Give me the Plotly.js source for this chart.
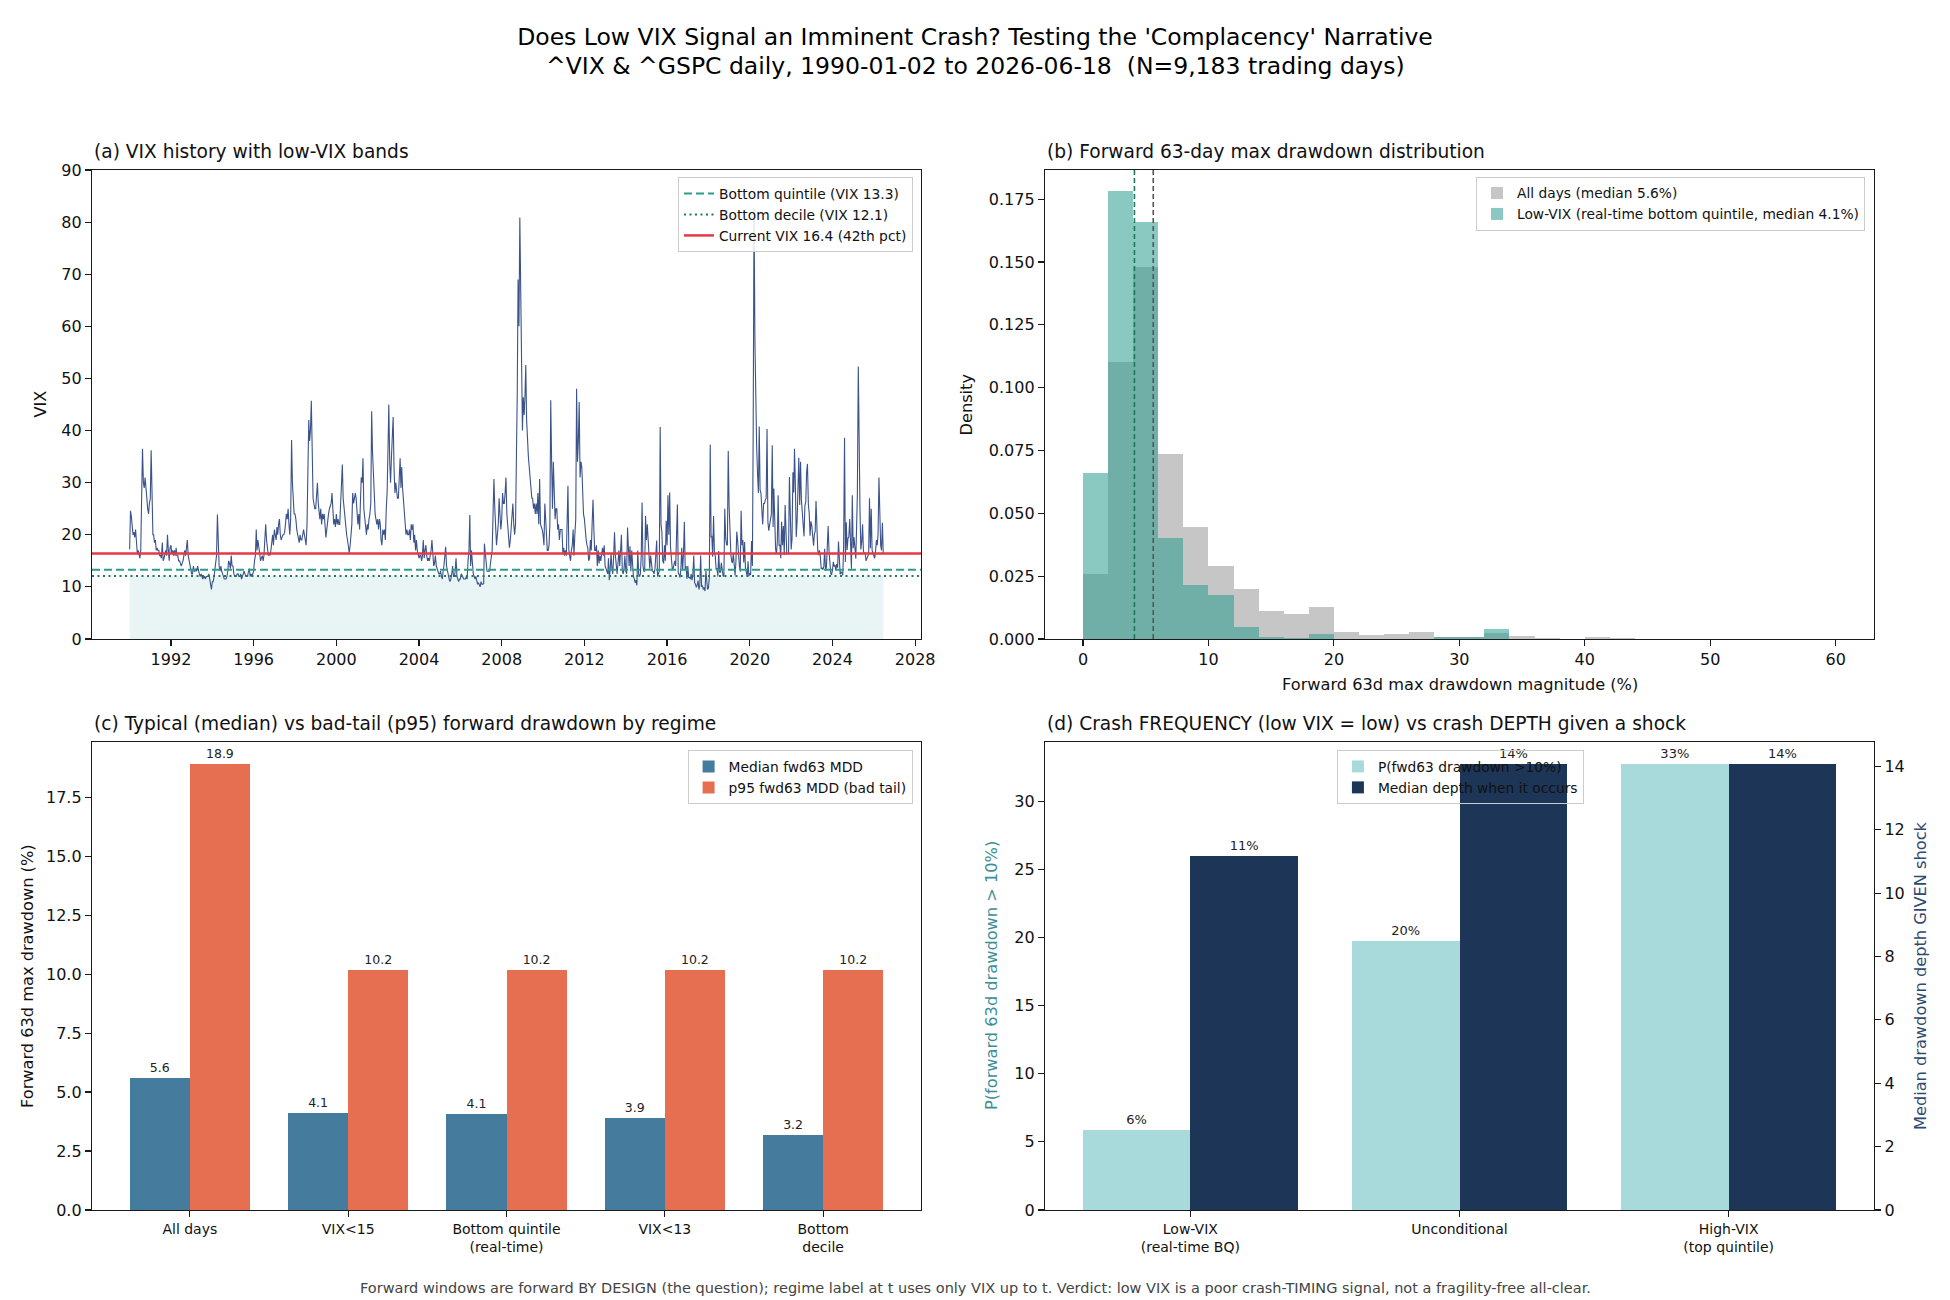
<!DOCTYPE html>
<html><head><meta charset="utf-8">
<script src="https://cdn.plot.ly/plotly-3.0.1.min.js"></script>
<style>html,body{margin:0;padding:0;background:#fff}#chart{width:1950px;height:1300px}</style>
</head><body><div id="chart"></div>
<script>
// ---------- Panel (a): VIX history, semi-monthly readings (1st & 16th of each month) ----------
const vix1990 = [17.2, 24.6, 23.5, 22, 20, 20.5, 19.5, 21, 18.5, 16.5, 17, 16, 15.5, 17, 27, 36.5, 30, 29, 31, 28, 27, 25, 24, 26];
const vix1991 = [27, 36.2, 23, 20, 20, 18.5, 19, 17, 17.5, 17, 17, 16, 16, 15.5, 18.5, 15, 15.5, 16.5, 17, 16, 20, 17, 15, 17.5];
const vix1992 = [18, 16.5, 17, 16, 17, 16, 17.5, 16, 16, 15, 15, 14.5, 14, 14.5, 15, 16, 17, 16, 17.5, 19, 16, 15, 14, 13.5];
const vix1993 = [12.5, 12.5, 14, 13, 13, 13.5, 13, 14, 13, 12.5, 12, 12.5, 12, 11.5, 12, 12, 11.5, 12, 12, 12, 12.5, 11.5, 10.5, 9.5];
const vix1994 = [11, 11, 12, 13.5, 14.5, 16, 23.9, 17, 14, 13, 14, 13, 12.5, 12, 11.5, 11.5, 11.5, 12, 13, 15, 14.5, 13.5, 16, 14];
const vix1995 = [14, 12.5, 12, 12, 12, 12.5, 12.5, 12, 12, 12.5, 11.5, 12, 12.5, 13, 12.5, 12, 12, 12, 13, 13.5, 12, 12.5, 12, 12.5];
const vix1996 = [13, 15, 16, 21, 17, 19, 17, 16.5, 15, 15.5, 16, 15, 16, 19, 22, 19, 17, 16, 16.5, 16, 17, 19, 20, 18];
const vix1997 = [21, 20, 19, 21.5, 20, 22, 23, 20, 19, 19.5, 20, 20, 20.5, 22, 24, 23, 25, 22, 20, 23, 38.2, 30, 25, 24];
const vix1998 = [24, 23, 21, 20, 19, 18.5, 20, 19, 19, 20, 21, 20, 19, 18, 22, 32, 42, 38, 40, 45.7, 30, 27, 26, 25];
const vix1999 = [25, 28, 30, 26, 24, 23, 25, 22, 24, 23, 24, 21, 19.5, 21, 23.5, 24, 25, 25.5, 26, 28, 24, 22, 23, 21.5];
const vix2000 = [24, 22, 23, 22, 22, 25, 28, 33.5, 27, 25, 24, 22, 20, 19, 18, 16.5, 18, 20, 22, 28, 26, 27, 28, 27];
const vix2001 = [25, 22, 24, 21, 26, 31, 30, 34.7, 25, 23, 22, 20, 22, 21, 23, 24, 26, 43.7, 36, 30, 28, 24, 23, 22];
const vix2002 = [23, 21, 23, 22, 19, 18, 21, 20, 21, 19, 25, 28, 36, 45, 34, 30, 35, 38, 42.6, 33, 28, 30, 28, 27];
const vix2003 = [27, 31, 34.7, 29, 33, 29, 27, 24, 22, 20, 21, 20, 20, 21, 19, 22, 21, 22, 18.5, 20, 17, 19, 17, 16.5];
const vix2004 = [15.5, 16, 16, 15, 16, 19, 15.5, 17, 18, 16, 15, 15.5, 15, 16, 17, 19, 15, 14, 14.5, 16, 14, 13.5, 13, 12.5];
const vix2005 = [12.5, 13, 12, 11.5, 13, 14, 16, 17.7, 14, 13, 12, 11.5, 11, 11.5, 12.5, 14, 12, 12, 13, 15.5, 12, 11.5, 11, 11.5];
const vix2006 = [11.5, 12.5, 12, 11.5, 11.5, 11.5, 11.5, 12, 11.5, 15, 17, 23.8, 14, 17, 14, 12.5, 12, 11.5, 12, 11.2, 10.5, 10.8, 10.5, 10];
const vix2007 = [11, 10.5, 10.5, 10.6, 18.3, 16, 14, 13, 13, 13, 13, 14.5, 16, 17, 24, 30.7, 25, 22, 18, 20, 22, 27, 22, 21];
const vix2008 = [23, 28, 26, 26, 28, 31, 24, 21, 18, 17.5, 19, 22, 24, 26, 22, 20, 22, 32, 46.7, 69, 60, 80.9, 68.5, 49];
const vix2009 = [40, 46.4, 43, 47, 52.6, 42, 37, 35, 33, 31, 29, 27, 27, 25, 26, 24, 26, 24, 28, 22, 30.7, 22, 21.5, 21];
const vix2010 = [20, 18, 26, 22, 19, 17, 17, 18, 22, 45.8, 34, 25, 34, 26, 23, 25, 25, 21, 22, 19, 21, 21, 21, 16.5];
const vix2011 = [17.5, 16, 17, 16, 21, 29.4, 17, 15.5, 15, 17, 18, 21, 16, 20, 23, 48, 34, 38, 45.5, 31, 34, 33, 27, 24];
const vix2012 = [23, 20, 19, 18, 17.5, 15, 15.5, 19, 17, 22, 26.7, 21, 17, 17, 18, 14, 17, 14.5, 16, 15, 17, 17.5, 16, 18];
const vix2013 = [14, 13.5, 12.9, 12.5, 15.5, 11.3, 13.5, 16.5, 13.5, 12.5, 16, 20.5, 16, 13.5, 12.5, 14.5, 17, 14, 16.6, 20, 13, 12.5, 13.5, 16];
const vix2014 = [13, 12.5, 21.4, 14, 14, 17.8, 13, 17, 13, 12, 11.5, 10.8, 11.3, 10.3, 17, 12.5, 12, 12.5, 16, 26.2, 14, 13, 13, 23.6];
const vix2015 = [19, 22, 19, 15.5, 13.5, 16, 14.5, 13, 13, 12.5, 13.5, 15.5, 18.9, 12, 12.5, 13, 40.7, 22, 20.5, 15, 14.5, 18, 15, 22.7];
const vix2016 = [18, 27.6, 20, 28.1, 17.7, 16, 13.5, 13.5, 14.7, 15, 14, 19.4, 25.8, 12.7, 12.4, 11.8, 13.5, 17.5, 13.3, 16.2, 22.5, 13.4, 14, 11.5];
const vix2017 = [14, 11.8, 11.8, 11.5, 12.5, 11.3, 12.4, 16, 10.8, 10.5, 9.9, 10.4, 11.2, 9.5, 10.3, 16, 10.1, 10.2, 9.5, 9.9, 9.2, 13.1, 11.4, 9.5];
const vix2018 = [9.8, 11.7, 37.3, 19.5, 19.8, 15.8, 23.6, 16.6, 15.9, 13.4, 13.5, 12, 16.9, 12.8, 12.8, 14.6, 12.9, 12.1, 12, 25, 19.3, 18.1, 18, 36.1];
const vix2019 = [25.4, 19, 16.1, 14.9, 14.6, 16.5, 13.4, 12.2, 14.8, 20.6, 18.7, 15.3, 14, 12.9, 24.6, 18, 19, 14.7, 18.6, 13.7, 12.3, 12, 14.9, 12.1];
const vix2020 = [12.5, 12.3, 18.8, 14, 40.1, 82.7, 57, 40, 37, 31.9, 28, 40.8, 28.6, 28, 24.5, 22, 26, 26, 26.7, 27, 40.3, 22.5, 20.8, 22];
const vix2021 = [22.8, 24, 37.2, 21.5, 28.9, 19.8, 17.3, 16.3, 18.6, 27.6, 17.9, 18.1, 15.5, 22.5, 18, 21.7, 16.1, 25.7, 21.2, 16.3, 16.3, 16.4, 31.1, 20.6];
const vix2022 = [17.2, 19.2, 32, 28.1, 36.5, 29.8, 19.6, 22.7, 33.4, 34.8, 25.7, 34, 26.7, 24.2, 23, 19.7, 25.6, 26.3, 32, 33.6, 25.8, 24.1, 19.8, 22.6];
const vix2023 = [21.7, 19.4, 17.9, 20.2, 20.6, 26.5, 18.7, 17, 16.1, 17, 15.7, 13.5, 13.6, 13.3, 13.9, 17.3, 13.1, 13.8, 17.5, 21.7, 16.9, 14.2, 12.6, 12.3];
const vix2024 = [13.2, 14.8, 13.9, 14.2, 13.1, 14.4, 13.7, 18.7, 15.4, 12.4, 12.9, 12.7, 12.2, 18, 38.6, 14.8, 22.4, 17.1, 19.3, 19.6, 23, 16.1, 13.5, 27.6];
const vix2025 = [17.4, 19.5, 16.4, 15.4, 21, 27.9, 52.3, 32.6, 24.6, 17.2, 18.6, 22, 16.8, 16.4, 16.5, 15, 15.4, 15.7, 16.3, 27, 17.4, 25, 17, 16.5];
const vix2026 = [16, 15.5, 17, 19, 18, 20, 31, 21, 18, 17, 22.3, 16.4];
const vixByYear = [vix1990, vix1991, vix1992, vix1993, vix1994, vix1995, vix1996, vix1997, vix1998, vix1999,
  vix2000, vix2001, vix2002, vix2003, vix2004, vix2005, vix2006, vix2007, vix2008, vix2009,
  vix2010, vix2011, vix2012, vix2013, vix2014, vix2015, vix2016, vix2017, vix2018, vix2019,
  vix2020, vix2021, vix2022, vix2023, vix2024, vix2025, vix2026];
const firstYear = 1990;
const quintileVix = 13.3;
const decileVix = 12.1;
const currentVix = 16.4;
const currentPct = 42;
const bandStart = '1990-01-02';
const bandEnd = '2026-06-18';
const aXRange = ['1988-03-07', '2028-04-13'];

// ---------- Panel (b): forward 63d max drawdown histogram (density, 2-pt bins) ----------
const binLeft = [0, 2, 4, 6, 8, 10, 12, 14, 16, 18, 20, 22, 24, 26, 28, 30, 32, 34, 36, 38, 40, 42, 44, 46, 48, 50, 52, 54, 56, 58];
const allDaysDensity = [0.026, 0.1104, 0.148, 0.0736, 0.0446, 0.0291, 0.020, 0.0111, 0.010, 0.0127, 0.0027, 0.0016, 0.002, 0.0027, 0.0007, 0.0006, 0.0024, 0.0011, 0.0004, 0.0001, 0.0007, 0.0003, 0, 0, 0, 0, 0, 0, 0, 0];
const lowVixDensity = [0.066, 0.1784, 0.166, 0.040, 0.0213, 0.0177, 0.0046, 0.0006, 0.0005, 0.0021, 0, 0, 0, 0, 0.0007, 0.0006, 0.0041, 0, 0, 0, 0, 0, 0, 0, 0, 0, 0, 0, 0, 0];
const medianAll = 5.6;
const medianLow = 4.1;

// ---------- Panel (c): median vs p95 forward drawdown by regime ----------
const regimes = ['All days', 'VIX&lt;15', 'Bottom quintile<br>(real-time)', 'VIX&lt;13', 'Bottom<br>decile'];
const medianMDD = [5.6, 4.12, 4.08, 3.9, 3.18];
const p95MDD = [18.9, 10.18, 10.18, 10.18, 10.18];

// ---------- Panel (d): crash frequency vs depth ----------
const dCats = ['Low-VIX<br>(real-time BQ)', 'Unconditional', 'High-VIX<br>(top quintile)'];
const pCrash = [5.89, 19.75, 32.7];
const depthGiven = [11.18, 14.07, 14.07];

// ---------- build ----------
const vixDates = [], vixValues = [];
vixByYear.forEach((arr, k) => {
  const yr = firstYear + k;
  arr.forEach((v, i) => {
    const m = Math.floor(i / 2) + 1;
    const d = (i % 2) ? 16 : 1;
    vixDates.push(yr + '-' + String(m).padStart(2, '0') + '-' + String(d).padStart(2, '0'));
    vixValues.push(v);
  });
});

const FONT = 'DejaVu Sans, Verdana, sans-serif';
const TXT = '#111111';
const traces = [
  {type:'scatter', mode:'lines', x:[bandStart, bandEnd], y:[decileVix, decileVix], fill:'tozeroy',
   fillcolor:'rgba(42,157,143,0.10)', line:{width:0, color:'rgba(0,0,0,0)'}, showlegend:false, hoverinfo:'skip', xaxis:'x', yaxis:'y'},
  {type:'scatter', mode:'lines', x:vixDates, y:vixValues, line:{color:'#3b528b', width:1.1}, showlegend:false, name:'VIX', xaxis:'x', yaxis:'y'},
  {type:'scatter', mode:'lines', x:aXRange, y:[quintileVix, quintileVix], line:{color:'#2a9d8f', width:2, dash:'8px,4px'},
   name:'Bottom quintile (VIX ' + quintileVix + ')', legend:'legend', xaxis:'x', yaxis:'y'},
  {type:'scatter', mode:'lines', x:aXRange, y:[decileVix, decileVix], line:{color:'#1b7a5a', width:2, dash:'2px,3.5px'},
   name:'Bottom decile (VIX ' + decileVix + ')', legend:'legend', xaxis:'x', yaxis:'y'},
  {type:'scatter', mode:'lines', x:aXRange, y:[currentVix, currentVix], line:{color:'#e63946', width:2.5},
   name:'Current VIX ' + currentVix + ' (' + currentPct + 'th pct)', legend:'legend', xaxis:'x', yaxis:'y'},

  {type:'bar', x:binLeft, y:allDaysDensity, width:2, offset:0, marker:{color:'#999999', line:{width:0}}, opacity:0.55,
   name:'All days (median ' + medianAll + '%)', legend:'legend2', xaxis:'x2', yaxis:'y2'},
  {type:'bar', x:binLeft, y:lowVixDensity, width:2, offset:0, marker:{color:'#2a9d8f', line:{width:0}}, opacity:0.55,
   name:'Low-VIX (real-time bottom quintile, median ' + medianLow + '%)', legend:'legend2', xaxis:'x2', yaxis:'y2'},

  {type:'bar', x:regimes, y:medianMDD, width:0.38, offset:-0.38, marker:{color:'#457b9d'},
   text:medianMDD.map(v => v.toFixed(1)), textposition:'outside', cliponaxis:false,
   textfont:{size:12.5, family:FONT, color:'#222'}, name:'Median fwd63 MDD', legend:'legend3', xaxis:'x3', yaxis:'y3'},
  {type:'bar', x:regimes, y:p95MDD, width:0.38, offset:0, marker:{color:'#e76f51'},
   text:p95MDD.map(v => v.toFixed(1)), textposition:'outside', cliponaxis:false,
   textfont:{size:12.5, family:FONT, color:'#222'}, name:'p95 fwd63 MDD (bad tail)', legend:'legend3', xaxis:'x3', yaxis:'y3'},

  {type:'bar', x:dCats, y:pCrash, width:0.4, offset:-0.4, marker:{color:'#a8dadc'},
   text:pCrash.map(v => Math.round(v) + '%'), textposition:'outside', cliponaxis:false,
   textfont:{size:13, family:FONT, color:'#222'}, name:'P(fwd63 drawdown &gt;10%)', legend:'legend4', xaxis:'x4', yaxis:'y4'},
  {type:'bar', x:dCats, y:depthGiven, width:0.4, offset:0, marker:{color:'#1d3557'},
   text:depthGiven.map(v => Math.round(v) + '%'), textposition:'outside', cliponaxis:false,
   textfont:{size:13, family:FONT, color:'#222'}, name:'Median depth when it occurs', legend:'legend4', xaxis:'x4', yaxis:'y5'}
];

const W = 1950, H = 1300;
const dxL = [92 / W, 921 / W], dxR = [1045 / W, 1874 / W];
const dyT = [1 - 639 / H, 1 - 170 / H], dyB = [1 - 1210 / H, 1 - 742 / H];
const ax = (o) => Object.assign({showline:true, mirror:true, linecolor:'#1a1a1a', linewidth:1.2, ticks:'outside', ticklen:6,
  tickwidth:1.2, tickcolor:'#1a1a1a', showgrid:false, zeroline:false, fixedrange:true,
  tickfont:{size:16, family:FONT, color:TXT}}, o);
const legBase = {font:{size:13.8, family:FONT, color:TXT}, bgcolor:'rgba(255,255,255,0.85)', bordercolor:'#cccccc',
  borderwidth:1, xanchor:'right', yanchor:'top', tracegroupgap:0, itemwidth:30};

const ann = (text, x, y, o) => Object.assign({text:text, x:x / W, y:1 - y / H, xref:'paper', yref:'paper', showarrow:false,
  xanchor:'center', yanchor:'middle', font:{size:16.2, family:FONT, color:TXT}}, o);
const ptFont = {size:18.6, family:FONT, color:TXT};

const layout = {
  width:W, height:H, margin:{l:0, r:0, t:0, b:0, pad:0}, paper_bgcolor:'#fff', plot_bgcolor:'#fff',
  barmode:'overlay', bargap:0, font:{family:FONT, color:TXT},
  title:{text:"Does Low VIX Signal an Imminent Crash? Testing the 'Complacency' Narrative",
    font:{size:23.5, family:FONT, color:'#000'}, x:0.5, xanchor:'center', y:1 - 37 / H, yanchor:'middle'},
  xaxis: ax({domain:dxL, anchor:'y', type:'date', range:aXRange, tick0:'1992-01-01', dtick:'M48', tickformat:'%Y'}),
  yaxis: ax({domain:dyT, anchor:'x', range:[0, 90], dtick:10}),
  xaxis2: ax({domain:dxR, anchor:'y2', range:[-3.03, 63.06], dtick:10}),
  yaxis2: ax({domain:dyT, anchor:'x2', range:[0, 0.1866], dtick:0.025, tickformat:'.3f'}),
  xaxis3: ax({domain:dxL, anchor:'y3', type:'category', range:[-0.618, 4.618], tickfont:{size:14, family:FONT, color:TXT}}),
  yaxis3: ax({domain:dyB, anchor:'x3', range:[0, 19.845], dtick:2.5, tickformat:'.1f'}),
  xaxis4: ax({domain:dxR, anchor:'y4', type:'category', range:[-0.54, 2.54], tickfont:{size:14, family:FONT, color:TXT}}),
  yaxis4: ax({domain:dyB, anchor:'x4', range:[0, 34.34], dtick:5}),
  yaxis5: ax({overlaying:'y4', anchor:'x4', side:'right', range:[0, 14.77], dtick:2, mirror:false}),
  legend: Object.assign({}, legBase, {x:0.4682, y:0.8638}),
  legend2: Object.assign({}, legBase, {x:0.9564, y:0.8642}),
  legend3: Object.assign({}, legBase, {x:0.468, y:0.4231}),
  legend4: Object.assign({}, legBase, {x:0.6856, xanchor:'left', y:0.4231, bgcolor:'rgba(255,255,255,0)'}),
  shapes: [
    {type:'line', xref:'x2', yref:'y2 domain', x0:medianLow, x1:medianLow, y0:0, y1:1, line:{color:'#1b7a5a', width:1.6, dash:'5px,3px'}},
    {type:'line', xref:'x2', yref:'y2 domain', x0:medianAll, x1:medianAll, y0:0, y1:1, line:{color:'#555555', width:1.6, dash:'5px,3px'}}
  ],
  annotations: [
    ann('^VIX &amp; ^GSPC daily, 1990-01-02 to 2026-06-18  (N=9,183 trading days)', 975, 66, {font:{size:23.5, family:FONT, color:'#000'}}),
    ann('(a) VIX history with low-VIX bands', 92, 164, {xanchor:'left', yanchor:'bottom', font:ptFont}),
    ann('(b) Forward 63-day max drawdown distribution', 1045, 164, {xanchor:'left', yanchor:'bottom', font:ptFont}),
    ann('(c) Typical (median) vs bad-tail (p95) forward drawdown by regime', 92, 736, {xanchor:'left', yanchor:'bottom', font:ptFont}),
    ann('(d) Crash FREQUENCY (low VIX = low) vs crash DEPTH given a shock', 1045, 736, {xanchor:'left', yanchor:'bottom', font:ptFont}),
    ann('VIX', 40, 404.5, {textangle:-90}),
    ann('Density', 966, 404.5, {textangle:-90}),
    ann('Forward 63d max drawdown magnitude (%)', 1459.5, 684),
    ann('Forward 63d max drawdown (%)', 27, 976, {textangle:-90}),
    ann('P(forward 63d drawdown &gt; 10%)', 991, 976, {textangle:-90, font:{size:16.2, family:FONT, color:'#3d8f95'}}),
    ann('Median drawdown depth GIVEN shock', 1920, 976, {textangle:-90, font:{size:16.2, family:FONT, color:'#2e4a6e'}}),
    ann('Forward windows are forward BY DESIGN (the question); regime label at t uses only VIX up to t. Verdict: low VIX is a poor crash-TIMING signal, not a fragility-free all-clear.',
      975, 1288, {font:{size:14.5, family:FONT, color:'#444'}})
  ]
};

Plotly.newPlot('chart', traces, layout, {staticPlot:true, displayModeBar:false});
</script></body></html>
